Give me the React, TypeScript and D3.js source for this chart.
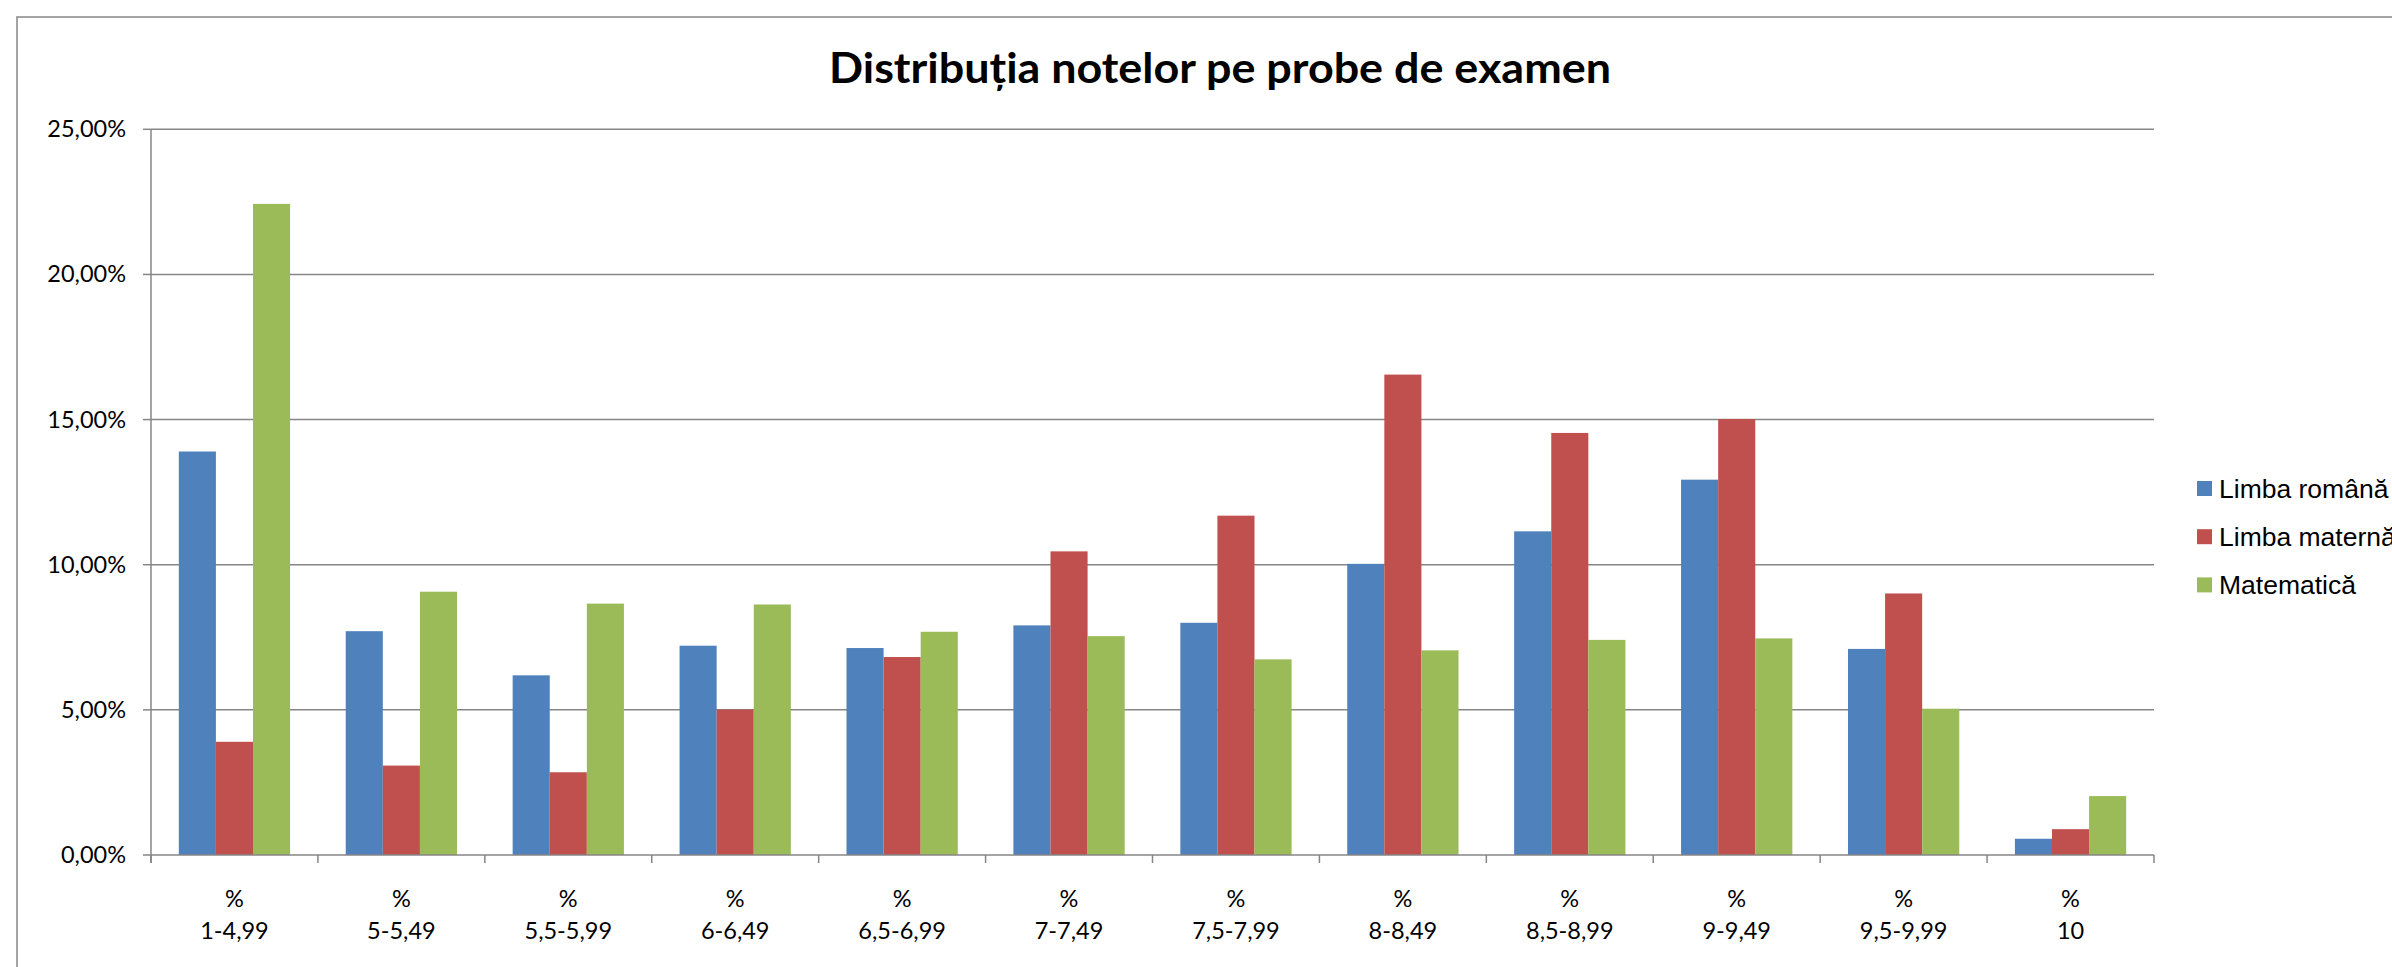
import React, { useEffect, useRef } from "react";
import * as d3 from "d3";

const categories = ["1-4,99", "5-5,49", "5,5-5,99", "6-6,49", "6,5-6,99", "7-7,49", "7,5-7,99", "8-8,49", "8,5-8,99", "9-9,49", "9,5-9,99", "10"];
const seriesNames = ["Limba română", "Limba maternă", "Matematică"];
const limbaRomana = [13.9, 7.71, 6.19, 7.21, 7.13, 7.91, 8.0, 10.03, 11.15, 12.93, 7.1, 0.56];
const limbaMaterna = [3.9, 3.08, 2.85, 5.01, 6.82, 10.46, 11.69, 16.55, 14.54, 15.02, 9.01, 0.89];
const matematica = [22.43, 9.07, 8.66, 8.63, 7.69, 7.54, 6.74, 7.05, 7.41, 7.46, 5.04, 2.03];
const yTicks = [0, 5, 10, 15, 20, 25];
const colors = ["#4F81BD", "#C0504D", "#9BBB59"];

const W = 2392;
const H = 967;

const App = () => {
    const ref = useRef<SVGSVGElement | null>(null);

    useEffect(() => {
        document.body.style.margin = "0";
        const svg = d3.select(ref.current);
        svg.selectAll("*").remove();

        const values = [limbaRomana, limbaMaterna, matematica];
        const left = 151, right = 2154, top = 129.3, bottom = 855;
        const font = "Lato, 'Open Sans', sans-serif";
        const grey = "#868686";

        svg.append("rect").attr("width", W).attr("height", H).attr("fill", "#fff");
        // chart border (runs off the right/bottom edge)
        svg.append("rect")
            .attr("x", 17).attr("y", 17)
            .attr("width", W + 50).attr("height", H + 50)
            .attr("fill", "none").attr("stroke", grey).attr("stroke-width", 1.5);

        const x = d3.scaleBand<string>()
            .domain(categories)
            .range([left, right])
            .paddingInner(1 / 3)
            .paddingOuter(1 / 6);
        const xs = d3.scaleBand<string>()
            .domain(seriesNames)
            .range([0, x.bandwidth()]);
        const y = d3.scaleLinear().domain([0, 25]).range([bottom, top]);

        const fmt = d3.formatLocale({ decimal: ",", thousands: ".", grouping: [3], currency: ["", ""] }).format(".2f");

        // gridlines
        svg.append("g")
            .selectAll("line")
            .data(yTicks.filter(d => d > 0))
            .join("line")
            .attr("x1", left).attr("x2", right)
            .attr("y1", d => y(d)).attr("y2", d => y(d))
            .attr("stroke", grey).attr("stroke-width", 1.5);

        // bars
        const groups = svg.append("g")
            .selectAll("g")
            .data(categories)
            .join("g")
            .attr("transform", d => `translate(${x(d)},0)`);
        groups.selectAll("rect")
            .data((d, i) => seriesNames.map((s, k) => ({ s, k, v: values[k][i] })))
            .join("rect")
            .attr("x", d => xs(d.s)!)
            .attr("width", xs.bandwidth())
            .attr("y", d => y(d.v))
            .attr("height", d => y(0) - y(d.v))
            .attr("fill", d => colors[d.k]);

        // y axis
        const ya = svg.append("g");
        ya.append("line")
            .attr("x1", left).attr("x2", left)
            .attr("y1", top).attr("y2", bottom + 8)
            .attr("stroke", grey).attr("stroke-width", 1.5);
        ya.selectAll("line.tick")
            .data(yTicks)
            .join("line")
            .attr("class", "tick")
            .attr("x1", left - 8).attr("x2", left)
            .attr("y1", d => y(d)).attr("y2", d => y(d))
            .attr("stroke", grey).attr("stroke-width", 1.5);
        ya.selectAll("text")
            .data(yTicks)
            .join("text")
            .attr("x", 126)
            .attr("y", d => y(d) + 8)
            .attr("text-anchor", "end")
            .attr("font-family", font)
            .attr("font-size", 23.5)
            .attr("fill", "#000")
            .text(d => fmt(d) + "%");

        // x axis
        const xa = svg.append("g");
        xa.append("line")
            .attr("x1", left).attr("x2", right)
            .attr("y1", bottom).attr("y2", bottom)
            .attr("stroke", grey).attr("stroke-width", 1.5);
        const step = x.step();
        xa.selectAll("line.tick")
            .data(d3.range(categories.length + 1))
            .join("line")
            .attr("class", "tick")
            .attr("x1", i => left + i * step).attr("x2", i => left + i * step)
            .attr("y1", bottom).attr("y2", bottom + 8)
            .attr("stroke", grey).attr("stroke-width", 1.5);
        const lbl = xa.selectAll("text")
            .data(categories)
            .join("text")
            .attr("text-anchor", "middle")
            .attr("font-family", font)
            .attr("font-size", 23.5)
            .attr("fill", "#000");
        lbl.append("tspan")
            .attr("x", d => x(d)! + x.bandwidth() / 2)
            .attr("y", 907)
            .text("%");
        lbl.append("tspan")
            .attr("x", d => x(d)! + x.bandwidth() / 2)
            .attr("y", 939)
            .text(d => d);

        // title
        svg.append("text")
            .attr("x", 1220).attr("y", 83)
            .attr("text-anchor", "middle")
            .attr("font-family", font)
            .attr("font-weight", "bold")
            .attr("font-size", 42)
            .attr("textLength", 782)
            .attr("lengthAdjust", "spacingAndGlyphs")
            .text("Distribuția notelor pe probe de examen");

        // legend
        const lg = svg.append("g")
            .selectAll("g")
            .data(seriesNames)
            .join("g")
            .attr("transform", (d, i) => `translate(2197,${488.5 + i * 48.2})`);
        lg.append("rect")
            .attr("x", 0).attr("y", -7.5)
            .attr("width", 15).attr("height", 15)
            .attr("fill", (d, i) => colors[i]);
        lg.append("text")
            .attr("x", 22).attr("y", 9)
            .attr("font-family", "'Liberation Sans', Arial, sans-serif")
            .attr("font-size", 26.5)
            .attr("fill", "#000")
            .text(d => d);
    }, []);

    return (
        <div>
            <svg ref={ref} width={W} height={H} style={{ display: "block" }}></svg>
        </div>
    );
};

export default App;
